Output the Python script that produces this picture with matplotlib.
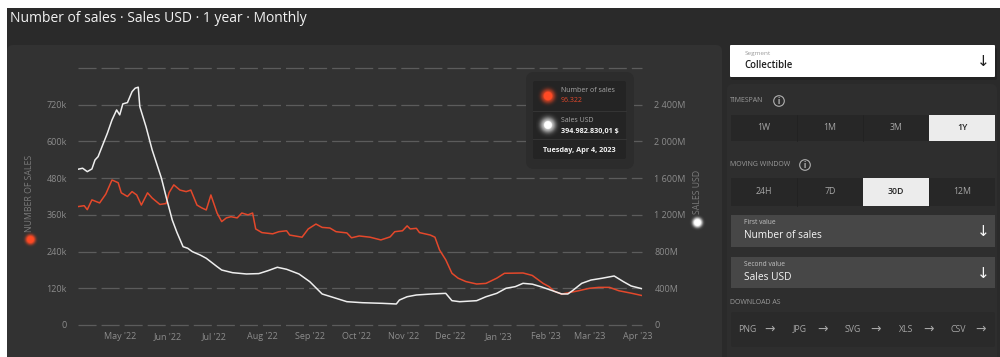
import numpy as np
import pandas as pd
import matplotlib
matplotlib.use('Agg')
import matplotlib.pyplot as plt
import matplotlib.dates as mdates
from matplotlib.colors import to_rgb
from matplotlib.patches import Rectangle, FancyBboxPatch, Circle
from matplotlib.ticker import FuncFormatter

plt.rcParams['font.family'] = ['Open Sans', 'DejaVu Sans']
plt.rcParams['lines.scale_dashes'] = False

# ── Data: 30-day moving window, Collectible segment ───────────────────────────
SALES_DATES = [
    '2022-04-04', '2022-04-08', '2022-04-10', '2022-04-13', '2022-04-18', '2022-04-22',
    '2022-04-26', '2022-04-30', '2022-05-02', '2022-05-06', '2022-05-09', '2022-05-12',
    '2022-05-15', '2022-05-19', '2022-05-22', '2022-05-27', '2022-05-31', '2022-06-02',
    '2022-06-05', '2022-06-09', '2022-06-13', '2022-06-16', '2022-06-20', '2022-06-23',
    '2022-06-26', '2022-06-29', '2022-07-03', '2022-07-06', '2022-07-09', '2022-07-12',
    '2022-07-16', '2022-07-19', '2022-07-23', '2022-07-26', '2022-07-28', '2022-08-01',
    '2022-08-08', '2022-08-12', '2022-08-17', '2022-08-19', '2022-08-27', '2022-08-31',
    '2022-09-05', '2022-09-09', '2022-09-14', '2022-09-18', '2022-09-25', '2022-09-28',
    '2022-10-03', '2022-10-10', '2022-10-17', '2022-10-23', '2022-10-26', '2022-10-31',
    '2022-11-03', '2022-11-05', '2022-11-09', '2022-11-11', '2022-11-18', '2022-11-21',
    '2022-11-24', '2022-11-28', '2022-12-02', '2022-12-06', '2022-12-11', '2022-12-18',
    '2022-12-24', '2022-12-31', '2023-01-05', '2023-01-17', '2023-01-23', '2023-01-30',
    '2023-02-03', '2023-02-06', '2023-02-11', '2023-02-16', '2023-02-22', '2023-03-01',
    '2023-03-07', '2023-03-14', '2023-03-20', '2023-03-28', '2023-04-04',
]
# number of sales, thousands
SALES_K = [
    387, 390, 377, 409, 399, 428, 474, 465, 432, 420, 436, 425,
    392, 432, 415, 394, 397, 433, 458, 441, 436, 441, 392, 383,
    376, 425, 366, 338, 350, 354, 350, 366, 360, 366, 314, 302,
    298, 305, 308, 294, 287, 314, 330, 319, 317, 305, 301, 285,
    291, 287, 278, 288, 305, 308, 324, 314, 316, 302, 294, 287,
    245, 213, 169, 153, 142, 134, 136, 153, 169, 170, 162, 136,
    125, 111, 101, 106, 112, 120, 123, 123, 112, 104, 96.322,
]

USD_DATES = [
    '2022-04-04', '2022-04-07', '2022-04-10', '2022-04-13', '2022-04-15', '2022-04-17',
    '2022-04-20', '2022-04-23', '2022-04-26', '2022-04-29', '2022-05-01', '2022-05-03',
    '2022-05-06', '2022-05-09', '2022-05-11', '2022-05-13', '2022-05-14', '2022-05-18',
    '2022-05-22', '2022-05-28', '2022-05-31', '2022-06-04', '2022-06-07', '2022-06-11',
    '2022-06-14', '2022-06-17', '2022-06-22', '2022-06-26', '2022-07-03', '2022-07-06',
    '2022-07-13', '2022-07-22', '2022-07-30', '2022-08-05', '2022-08-11', '2022-08-17',
    '2022-08-25', '2022-09-01', '2022-09-09', '2022-09-18', '2022-09-25', '2022-10-05',
    '2022-10-18', '2022-10-27', '2022-10-29', '2022-11-03', '2022-11-09', '2022-11-19',
    '2022-11-28', '2022-12-02', '2022-12-07', '2022-12-18', '2022-12-24', '2022-12-31',
    '2023-01-06', '2023-01-12', '2023-01-17', '2023-01-23', '2023-01-29', '2023-02-05',
    '2023-02-11', '2023-02-15', '2023-02-18', '2023-02-24', '2023-03-02', '2023-03-09',
    '2023-03-17', '2023-03-23', '2023-03-28', '2023-04-04',
]
# sales volume, millions of USD
USD_M = [
    1697, 1708, 1671, 1700, 1798, 1834, 1962, 2089, 2234, 2343, 2289, 2409,
    2423, 2543, 2580, 2591, 2379, 2161, 1907, 1599, 1398, 1144, 1010, 853,
    836, 799, 763, 727, 636, 599, 570, 556, 560, 592, 629, 607,
    556, 472, 338, 291, 254, 243, 236, 229, 272, 308, 327, 338,
    345, 265, 254, 265, 308, 345, 400, 418, 454, 445, 415, 374,
    338, 338, 374, 454, 490, 509, 534, 472, 425, 394.98283001,
]

TITLE = 'Number of sales · Sales USD · 1 year · Monthly'
TIMESPANS = ['1W', '1M', '3M', '1Y']
WINDOWS = ['24H', '7D', '30D', '12M']
FORMATS = ['PNG', 'JPG', 'SVG', 'XLS', 'CSV']

RED = '#e4482b'
WHITE = '#eeeeee'
TICK = '#8c8c8c'
GRID = '#5c5c5c'

sales = pd.Series(SALES_K, index=pd.to_datetime(SALES_DATES))
usd = pd.Series(USD_M, index=pd.to_datetime(USD_DATES))

W, H = 1000, 357
fig = plt.figure(figsize=(W / 100, H / 100), dpi=100, facecolor='white')

# full-figure pixel canvases: one behind the chart, one above it
bg = fig.add_axes([0, 0, 1, 1], zorder=0)
fg = fig.add_axes([0, 0, 1, 1], zorder=5)
for a in (bg, fg):
    a.set_xlim(0, W)
    a.set_ylim(H, 0)
    a.axis('off')
    a.patch.set_alpha(0)


def box(a, x0, y0, x1, y1, color, r=0, **kw):
    if r:
        p = FancyBboxPatch((x0 + r, y0 + r), x1 - x0 - 2 * r, y1 - y0 - 2 * r,
                           boxstyle=f'round,pad={r}', fc=color, ec='none', **kw)
    else:
        p = Rectangle((x0, y0), x1 - x0, y1 - y0, fc=color, ec='none', **kw)
    a.add_patch(p)


def glow(a, x, y, color, core, spread, strength=0.9):
    # solid disc with a soft gaussian halo, rendered as a small RGBA image
    n = 64
    s = spread + 2
    g = np.linspace(-s, s, n)
    d = np.hypot(*np.meshgrid(g, g))
    halo = strength * np.exp(-((d - core).clip(0)) ** 2 / (2 * (spread - core) ** 2 / 4))
    alpha = np.where(d <= core, 1.0, halo)
    alpha = np.clip(alpha + np.clip(core + 0.5 - d, 0, 1), 0, 1)
    img = np.zeros((n, n, 4))
    img[..., :3] = to_rgb(color)
    img[..., 3] = alpha
    a.imshow(img, extent=(x - s, x + s, y + s, y - s), interpolation='bilinear',
             aspect='auto', zorder=4)
    a.set_xlim(0, W)
    a.set_ylim(H, 0)


# ── Page backgrounds ──────────────────────────────────────────────────────────
box(bg, 7, 8, W, H, '#2a2a2a')
box(bg, 7, 45, 722, H + 12, '#323232', r=6)
box(bg, 727, 84, 997, H + 12, '#2e2e2e', r=6)
bg.text(10, 19, TITLE, color='#f2f2f2', fontsize=10, va='center', ha='left')

# ── Chart ─────────────────────────────────────────────────────────────────────
ax = fig.add_axes([78 / W, 1 - 325 / H, 564 / W, 257 / H], zorder=1)
ax.patch.set_alpha(0)
ax.plot(sales.index, sales.values, color=RED, lw=1.1, solid_joinstyle='round')
ax.set_ylim(0, 840)
ax.set_xlim(pd.Timestamp('2022-04-04'), pd.Timestamp('2023-04-04'))
for v in np.arange(0, 841, 120):
    ax.axhline(v, color=GRID, lw=0.9, dashes=(13, 3.6), zorder=0, clip_on=False)
ax.set_yticks(np.arange(0, 721, 120))
ax.yaxis.set_major_formatter(FuncFormatter(lambda v, _: '0' if v == 0 else f'{v:.0f}k'))
ax.xaxis.set_major_locator(mdates.MonthLocator(bymonthday=1))
ax.xaxis.set_major_formatter(mdates.DateFormatter("%b '%y"))

ax2 = ax.twinx()
ax2.set_zorder(2)
ax2.patch.set_alpha(0)
ax2.plot(usd.index, usd.values, color=WHITE, lw=1.1, solid_joinstyle='round')
ax2.set_ylim(0, 2800)
ax2.set_yticks(np.arange(0, 2401, 400))
ax2.yaxis.set_major_formatter(
    FuncFormatter(lambda v, _: '0' if v == 0 else f'{v:,.0f}M'.replace(',', ' ')))

for a in (ax, ax2):
    for s in a.spines.values():
        s.set_visible(False)
    a.tick_params(length=0, colors=TICK, labelsize=6.5)
ax.tick_params(axis='y', pad=8)
ax.tick_params(axis='x', pad=5)
ax2.tick_params(axis='y', pad=9)

# axis titles with coloured markers
fg.text(30, 232, 'NUMBER OF SALES', rotation=90, color='#7a7a7a', fontsize=6.3,
        ha='center', va='bottom')
glow(fg, 30, 240, '#ff4a24', 3.0, 6.5)
fg.text(697, 214, 'SALES USD', rotation=90, color='#7a7a7a', fontsize=6.3,
        ha='center', va='bottom')
glow(fg, 697, 223, '#ffffff', 3.0, 6.5)

# ── Tooltip for the last point ────────────────────────────────────────────────
last_sales = SALES_K[-1]
last_usd = USD_M[-1] * 1e6
last_date = pd.Timestamp(SALES_DATES[-1])
sales_txt = f'{last_sales:.3f}'
usd_txt = f'{last_usd:,.2f}'.replace(',', ' ').replace('.', ',').replace(' ', '.') + ' $'
date_txt = f"{last_date:%A, %b} {last_date.day}, {last_date.year}"

box(fg, 526, 72, 634, 169, '#2c2c2c', r=8)
box(fg, 533, 81, 626, 159, '#242424', r=2)
fg.plot([533, 626], [111, 111], color='#343434', lw=0.8)
fg.plot([533, 626], [139, 139], color='#343434', lw=0.8)
glow(fg, 548, 96, '#ff4a24', 4.2, 9, strength=0.7)
glow(fg, 548, 125, '#ffffff', 3.8, 10, strength=0.7)
fg.text(561, 91, 'Number of sales', color='#a8a8a8', fontsize=5, va='center')
fg.text(561, 100.5, sales_txt, color=RED, fontsize=5, va='center')
fg.text(561, 121, 'Sales USD', color='#a8a8a8', fontsize=5, va='center')
fg.text(561, 131, usd_txt, color='#f4f4f4', fontsize=5.2, va='center', weight='bold')
fg.text(579.5, 150, date_txt, color='#f4f4f4', fontsize=5.2, va='center', ha='center',
        weight='bold')

# ── Control panel ─────────────────────────────────────────────────────────────
box(bg, 731, 48, 997, 80, '#222222', r=2)
box(bg, 730, 45, 995, 77, '#ffffff', r=1)
bg.text(745, 53, 'Segment', color='#9a9a9a', fontsize=4.6, va='center')
bg.text(744, 66, 'Collectible', color='#1e1e1e', fontsize=6.9, va='center', weight='semibold')
bg.text(983, 62, '↓', color='#1e1e1e', fontsize=11, va='center', ha='center',
        family='DejaVu Sans')


def section_label(y, text, icon_x):
    bg.text(730, y, text, color='#9a9a9a', fontsize=5, va='center')
    bg.add_patch(Circle((icon_x, y), 5.3, fc='none', ec='#b0b0b0', lw=0.8))
    bg.text(icon_x, y + 0.5, 'i', color='#c0c0c0', fontsize=5.5, va='center', ha='center',
            weight='bold')


def button_row(y0, y1, labels, selected):
    box(bg, 731, y0, 995, y1, '#272727')
    w = (995 - 731) / len(labels)
    for i, lab in enumerate(labels):
        x0 = 731 + i * w
        if i == selected:
            box(bg, x0, y0, x0 + w, y1, '#ececec')
            bg.text(x0 + w / 2, (y0 + y1) / 2, lab, color='#222222', fontsize=6.3,
                    va='center', ha='center', weight='semibold')
        else:
            if i > 0:
                bg.plot([x0, x0], [y0, y1], color='#222222', lw=0.6)
            bg.text(x0 + w / 2, (y0 + y1) / 2, lab, color='#a6a6a6', fontsize=6.3,
                    va='center', ha='center')


section_label(101, 'TIMESPAN', 779)
button_row(115, 141, TIMESPANS, TIMESPANS.index('1Y'))
section_label(165, 'MOVING WINDOW', 805)
button_row(178, 206, WINDOWS, WINDOWS.index('30D'))


def select_card(y0, y1, label, value):
    box(bg, 731, y0, 995, y1, '#474747')
    bg.text(744, y0 + 8, label, color='#c4c4c4', fontsize=4.8, va='center')
    bg.text(744, y0 + 21, value, color='#f6f6f6', fontsize=7.3, va='center')
    bg.text(983, (y0 + y1) / 2 + 1, '↓', color='#f6f6f6', fontsize=11, va='center',
            ha='center', family='DejaVu Sans')


select_card(215, 247, 'First value', 'Number of sales')
select_card(257, 288, 'Second value', 'Sales USD')

bg.text(730, 302, 'DOWNLOAD AS', color='#9a9a9a', fontsize=5, va='center')
box(bg, 731, 312, 995, 347, '#2a2a2a', r=2)
for lab, xc in zip(FORMATS, [747, 800, 853, 906, 958]):
    bg.text(xc, 329, lab, color='#a6a6a6', fontsize=6.3, va='center', ha='center')
    bg.text(xc + 23, 329, '→', color='#a6a6a6', fontsize=9, va='center', ha='center',
            family='DejaVu Sans')

fig.savefig('out.png', dpi=100, facecolor='white')
